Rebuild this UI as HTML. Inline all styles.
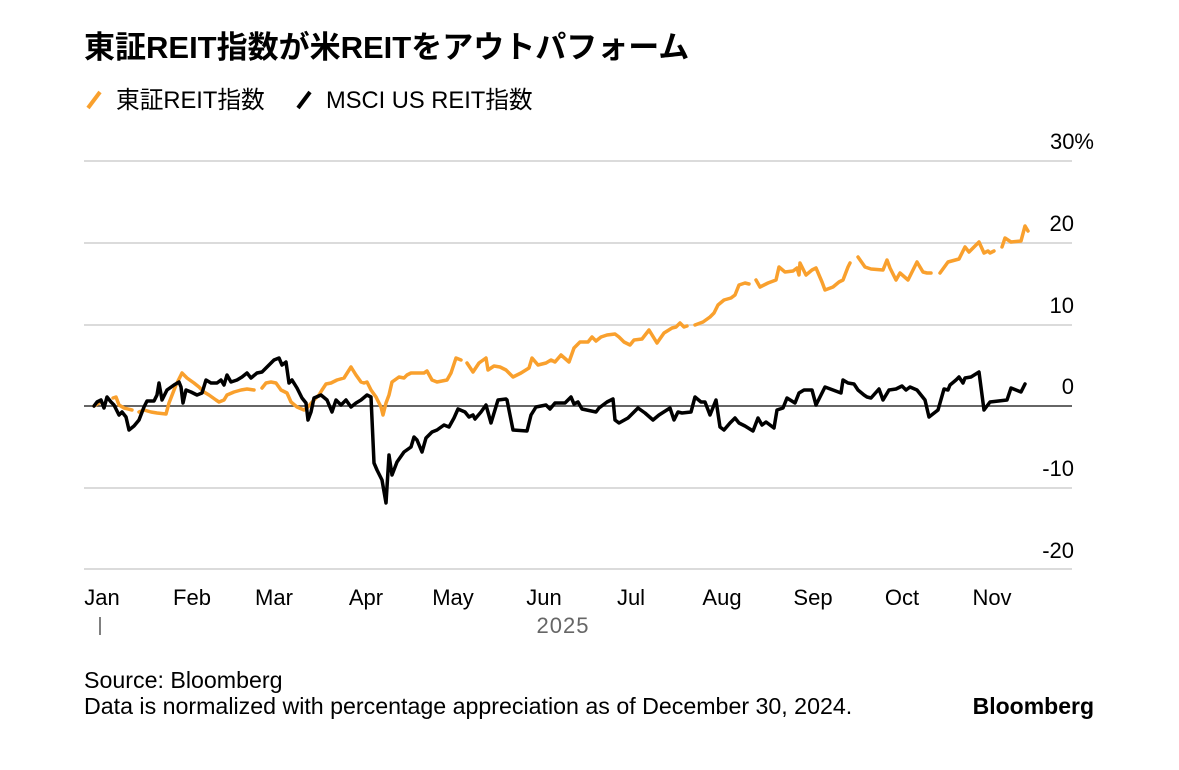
<!DOCTYPE html>
<html><head><meta charset="utf-8"><style>
body{margin:0;background:#fff;width:1179px;height:765px;overflow:hidden;font-family:"Liberation Sans","Noto Sans CJK JP",sans-serif;}
svg text{font-family:"Liberation Sans","Noto Sans CJK JP",sans-serif;}
</style></head><body>
<svg width="1179" height="765" viewBox="0 0 1179 765" xmlns="http://www.w3.org/2000/svg">
<rect width="1179" height="765" fill="#fff"/>
<text x="84" y="58" font-size="31" font-weight="bold" fill="#000">東証REIT指数が米REITをアウトパフォーム</text>
<line x1="88" y1="108" x2="100" y2="92" stroke="#f9a02d" stroke-width="4"/>
<text x="116" y="108" font-size="23.7" fill="#000">東証REIT指数</text>
<line x1="298" y1="108" x2="310" y2="92" stroke="#000" stroke-width="4"/>
<text x="326" y="108" font-size="23.7" fill="#000">MSCI US REIT指数</text>
<g stroke="#cfcfcf" stroke-width="1.5">
<line x1="84" y1="161" x2="1072" y2="161"/><line x1="84" y1="243" x2="1072" y2="243"/>
<line x1="84" y1="325" x2="1072" y2="325"/><line x1="84" y1="488" x2="1072" y2="488"/>
<line x1="84" y1="569" x2="1072" y2="569"/>
</g>
<line x1="84" y1="406" x2="1072" y2="406" stroke="#333" stroke-width="1.5"/>
<g font-size="22" fill="#000" text-anchor="end">
<text x="1094" y="149">30%</text><text x="1074" y="231">20</text><text x="1074" y="313">10</text>
<text x="1074" y="394">0</text><text x="1074" y="476">-10</text><text x="1074" y="558">-20</text>
</g>
<g font-size="22" fill="#000" text-anchor="middle">
<text x="102" y="605">Jan</text><text x="192" y="605">Feb</text><text x="274" y="605">Mar</text><text x="366" y="605">Apr</text>
<text x="453" y="605">May</text><text x="544" y="605">Jun</text><text x="631" y="605">Jul</text><text x="722" y="605">Aug</text>
<text x="813" y="605">Sep</text><text x="902" y="605">Oct</text><text x="992" y="605">Nov</text>
</g>
<line x1="100" y1="617" x2="100" y2="635" stroke="#555" stroke-width="1.5"/>
<text x="563" y="633" font-size="22" fill="#666" text-anchor="middle" letter-spacing="1">2025</text>
<g fill="none" stroke-width="3.5" stroke-linejoin="round" stroke-linecap="round">
<g stroke="#f9a02d">
<polyline points="94,406 99,403"/>
<polyline points="113,398 116,397 119,405 124,408 132,410"/>
<polyline points="139,412 144,410 151,412 157,413 166,414 169,403 176,385 182,373 187,378 194,383 199,387 204,392 209,395 216,400 219,402 224,400 227,395 234,392 241,390 247,389 254,390"/>
<polyline points="262,388 266,383 271,382 276,383 281,390 287,393 291,402 297,407 304,410 307,408 314,400 319,395 322,390 326,384 331,383 337,380 344,378 351,367 356,375 361,382 364,383 367,382 371,390 376,397 381,407 383,415 386,403 389,395 392,382 399,377 404,378 407,375 411,373 417,373 424,373 427,371 432,380 437,382 447,380 451,373 456,358 461,360"/>
<polyline points="467,363 473,372 479,363 486,358 488,370 494,366 500,367 506,370 513,377 521,373 529,368 532,358 538,365 546,363 551,360 555,362 561,355 569,362 574,348 580,342 588,342 592,337 596,341 601,337 607,335 615,334 619,337 624,342 630,345 634,340 642,339 649,330 657,343 664,333 672,328 676,327 680,323 684,327 687,326"/>
<polyline points="695,325 703,322 710,317 714,313 718,305 724,300 731,298 735,295 739,285 745,283 749,284"/>
<polyline points="756,280 760,287 768,283 776,280 779,267 785,272 793,271 797,268 799,275 800,263 806,275 812,270 816,268 822,282 825,290 833,287 839,282 843,280 848,267 850,263"/>
<polyline points="858,257 865,267 871,269 883,270 887,260 890,268 896,280 900,273 908,280 917,262 923,272 927,273 931,273"/>
<polyline points="940,273 948,262 959,259 965,247 969,252 979,242 984,253 988,251 990,253 994,251"/>
<polyline points="1002,247 1005,238 1011,242 1021,241 1025,226 1028,231"/>
</g>
<polyline stroke="#000" points="94,406 97,402 101,400 104,408 107,397 111,402 114,405 119,415 122,412 126,417 129,430 134,426 139,420 144,407 147,401 154,401 157,395 159,383 162,400 167,390 174,385 179,382 181,387 183,403 186,390 191,392 197,395 202,393 206,380 211,383 217,383 221,380 224,385 227,375 231,382 237,380 242,377 247,373 251,378 257,373 262,372 266,368 271,363 274,360 279,358 282,365 286,362 289,383 292,380 297,388 302,398 306,403 308,420 311,412 314,398 321,395 327,400 332,412 336,400 341,405 346,400 351,407 356,403 361,400 367,395 371,397 374,463 377,470 382,480 386,503 389,455 392,475 397,462 404,452 411,447 414,437 417,440 422,452 426,438 432,432 437,430 444,425 449,427 454,418 458,409 465,412 469,417 473,415 475,419 481,412 486,405 491,423 498,400 506,399 507,400 513,430 527,431 531,415 536,407 546,405 550,409 555,403 561,403 565,403 571,397 574,404 578,402 582,409 596,412 599,408 607,402 613,399 615,420 619,423 628,418 630,416 638,408 645,413 653,420 659,415 670,408 674,420 678,412 682,413 691,412 695,397 701,402 705,402 710,415 716,400 720,427 724,430 730,423 735,418 739,423 745,426 753,431 758,418 762,425 766,422 774,428 777,410 783,408 787,398 795,403 799,393 804,390 812,390 816,405 825,387 841,393 843,380 848,383 854,384 858,390 864,395 867,397 871,398 879,389 883,400 889,390 896,389 902,386 906,390 910,387 917,390 925,400 929,417 938,410 944,389 948,390 950,385 956,380 959,377 963,383 965,378 971,377 979,372 984,410 990,402 1007,400 1011,388 1021,392 1025,384"/>
</g>
<text x="84" y="688" font-size="23.2" fill="#000">Source: Bloomberg</text>
<text x="84" y="714" font-size="23.2" fill="#000">Data is normalized with percentage appreciation as of December 30, 2024.</text>
<text x="1094" y="714" font-size="23" font-weight="bold" fill="#000" text-anchor="end">Bloomberg</text>
</svg>
</body></html>
